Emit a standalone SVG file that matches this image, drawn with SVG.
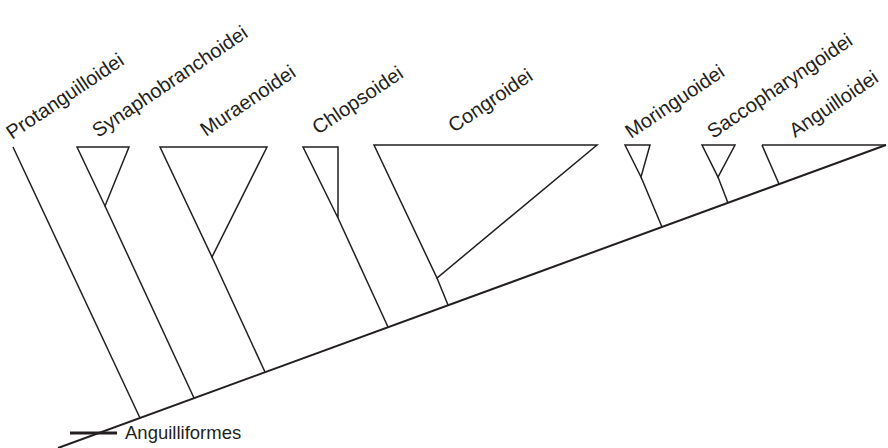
<svg xmlns="http://www.w3.org/2000/svg" width="888" height="448" viewBox="0 0 888 448">
  <style>
    .ln { fill: none; stroke: #231f20; stroke-width: 1.5; stroke-linejoin: miter; stroke-linecap: butt; }
    .sp { fill: none; stroke: #231f20; stroke-width: 2; }
    .lb { font-family: "Liberation Sans", Arial, sans-serif; font-size: 20px; fill: #231f20; }
    .hz { font-family: "Liberation Sans", Arial, sans-serif; font-size: 18.5px; fill: #231f20; }
  </style>
  <rect width="888" height="448" fill="#ffffff"/>
  <g id="connectors">
    <line class="sp" x1="58" y1="448" x2="886" y2="145"/>
    <line class="ln" x1="13" y1="147" x2="140" y2="418"/>
    <line class="ln" x1="105" y1="206" x2="194" y2="398"/>
    <line class="ln" x1="212" y1="257" x2="265" y2="372"/>
    <line class="ln" x1="338" y1="218" x2="388" y2="327"/>
    <line class="ln" x1="437" y1="278" x2="448" y2="305"/>
    <line class="ln" x1="641" y1="177" x2="662" y2="227"/>
    <line class="ln" x1="718" y1="177" x2="728" y2="203"/>
    <line class="ln" x1="762" y1="145" x2="779" y2="184"/>
  </g>
  <g id="protanguilloidei">
    <text class="lb" transform="translate(12,140) rotate(-34)">Protanguilloidei</text>
  </g>
  <g id="synaphobranchoidei">
    <polygon class="ln" points="77,147 129,147 105,206"/>
    <text class="lb" transform="translate(98,138) rotate(-34)">Synaphobranchoidei</text>
  </g>
  <g id="muraenoidei">
    <polygon class="ln" points="160,147 267,147 212,257"/>
    <text class="lb" transform="translate(206,137) rotate(-34)">Muraenoidei</text>
  </g>
  <g id="chlopsoidei">
    <polygon class="ln" points="303,147 338,147 338,218"/>
    <text class="lb" transform="translate(318,135) rotate(-34)">Chlopsoidei</text>
  </g>
  <g id="congroidei">
    <polygon class="ln" points="374,145 597,145 437,278"/>
    <text class="lb" transform="translate(454,133) rotate(-34)">Congroidei</text>
  </g>
  <g id="moringuoidei">
    <polygon class="ln" points="625,145 650,145 641,177"/>
    <text class="lb" transform="translate(631,139) rotate(-34)">Moringuoidei</text>
  </g>
  <g id="saccopharyngoidei">
    <polygon class="ln" points="702,145 735,145 718,177"/>
    <text class="lb" transform="translate(713,139) rotate(-34)">Saccopharyngoidei</text>
  </g>
  <g id="anguilloidei">
    <polyline class="ln" points="762,145 886,145"/>
    <text class="lb" transform="translate(795,138) rotate(-34)">Anguilloidei</text>
  </g>
  <g id="anguilliformes">
    <line x1="70" y1="433" x2="117" y2="433" stroke="#231f20" stroke-width="3"/>
    <text class="hz" x="125" y="439">Anguilliformes</text>
  </g>
</svg>
